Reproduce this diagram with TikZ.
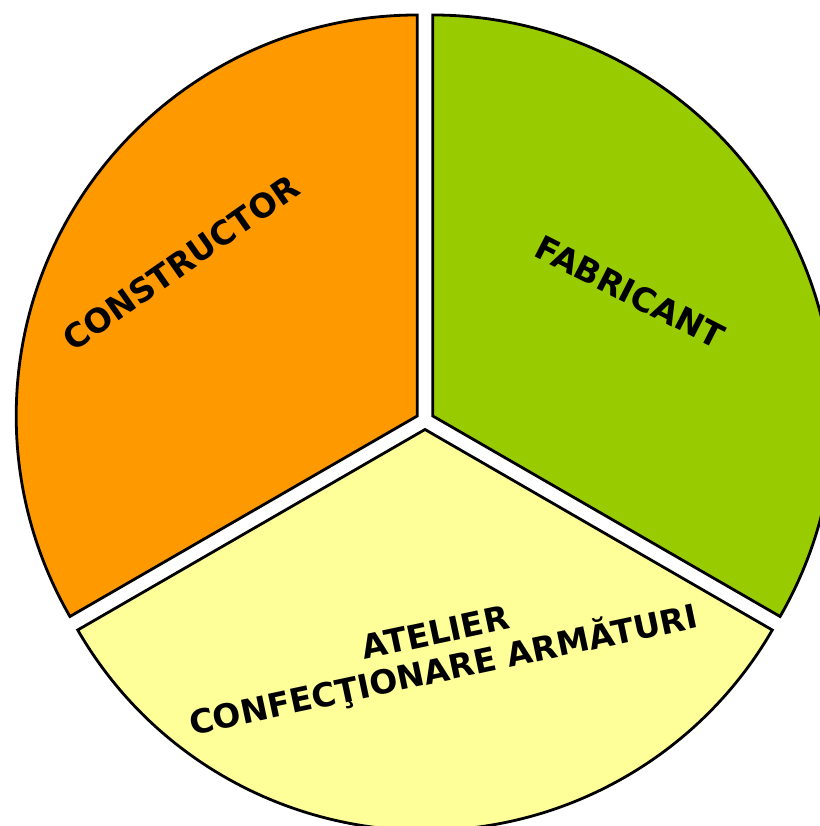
\documentclass[tikz,border=0pt]{standalone}
\usepackage{fontspec}
\setmainfont{DejaVu Sans}
\usepackage{xcolor}
\definecolor{edgeDark}{HTML}{000000}
\definecolor{constructorFill}{HTML}{FF9900}
\definecolor{fabricantFill}{HTML}{99CC00}
\definecolor{atelierFill}{HTML}{FFFF99}
\usepackage{tikz}
\usetikzlibrary{positioning,calc}
\tikzset{%
  sliceShape/.style={%
    draw=edgeDark,
    line width=2.8pt,
    line join=miter
  },
  sliceLabel/.style={%
    font=\fontsize{33}{38}\selectfont\bfseries,
    text=black,
    align=center,
    inner sep=0pt
  }
}

\begin{document}
\begin{tikzpicture}[x=1pt,y=1pt]
            \useasboundingbox (0,0) rectangle (819,826);
            \coordinate (ctr) at (425,405.5);
            \coordinate (cApex) at ($(ctr)+(150:9)$);
            \coordinate (fApex) at ($(ctr)+(30:9)$);
            \coordinate (aApex) at ($(ctr)+(270:9)$);

            % the three slices
            \filldraw[sliceShape, fill=constructorFill] (cApex) -- ++(90:401)
                arc[start angle=90, end angle=210, radius=401] -- cycle;
            \filldraw[sliceShape, fill=fabricantFill] (fApex) -- ++(-30:401)
                arc[start angle=-30, end angle=90, radius=401] -- cycle;
            \filldraw[sliceShape, fill=atelierFill] (aApex) -- ++(210:401)
                arc[start angle=210, end angle=330, radius=401] -- cycle;

            \node[sliceLabel, rotate=35] (constructor) at (181,563) {CONSTRUCTOR};
            \node[sliceLabel, rotate=-27] (fabricant) at (630,534) {FABRICANT};
            \node[sliceLabel, rotate=12] (atelier) at (440,172) {ATELIER\\CONFECŢIONARE ARMĂTURI};
        \end{tikzpicture}
\end{document}
